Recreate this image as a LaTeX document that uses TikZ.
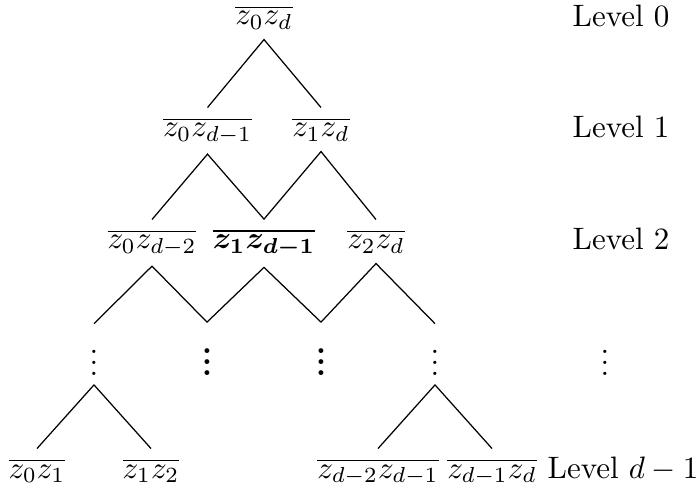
\documentclass[tikz,border=0pt]{standalone}
\usepackage{bm}
\newcommand\myvdots{\vbox{\baselineskip3.4pt\lineskiplimit0pt\kern5.5pt\hbox{.}\hbox{.}\hbox{.}}}
\begin{document}
\begin{tikzpicture}[x=0.3226pt,y=-0.3226pt,
  pair/.style={anchor=base,inner sep=3pt},
  lvl/.style={anchor=base west,inner sep=0pt},
  vd/.style={anchor=base,inner sep=3pt},
  conn/.style={draw=black,line width=0.4pt}]
\useasboundingbox (0,0) rectangle (697,489);
% level 0
\node[pair] (a) at (264,25) {$\overline{z_0z_d}$};
\node[lvl] (l0) at (572,27) {Level $0$};
% level 1
\node[pair] (b1) at (207.5,137) {$\overline{z_0z_{d-1}}$};
\node[pair] (b2) at (321,137) {$\overline{z_1z_d}$};
\node[lvl] (l1) at (572,138) {Level $1$};
% level 2
\node[pair] (c1) at (152,249) {$\overline{z_0z_{d-2}}$};
\node[pair] (c2) at (264,249) {$\bm{\overline{z_1z_{d-1}}}$};
\node[pair] (c3) at (376,249) {$\overline{z_2z_d}$};
\node[lvl] (l2) at (572,250) {Level $2$};
% dots
\node[vd] (d1) at (94,375) {\myvdots};
\node[vd,font=\bfseries] (d2) at (207,375) {\myvdots};
\node[vd,font=\bfseries] (d3) at (321,375) {\myvdots};
\node[vd] (d4) at (435,375) {\myvdots};
\node[vd] (d5) at (605,375) {\myvdots};
% bottom level
\node[pair] (e1) at (37,478) {$\overline{z_0z_1}$};
\node[pair] (e2) at (151,478) {$\overline{z_1z_2}$};
\node[pair] (e3) at (378,478) {$\overline{z_{d-2}z_{d-1}}$};
\node[pair] (e4) at (492,478) {$\overline{z_{d-1}z_d}$};
\node[lvl] (ld) at (547,478) {Level $d-1$};
% connectors
\draw[conn] (b1.north) -- (a.south) -- (b2.north);
\draw[conn] (c1.north) -- (b1.south) -- (c2.north) -- (b2.south) -- (c3.north);
\draw[conn] (d1.north) -- (c1.south) -- (d2.north) -- (c2.south) -- (d3.north) -- (c3.south) -- (d4.north);
\draw[conn] (e1.north) -- (d1.south) -- (e2.north);
\draw[conn] (e3.north) -- (d4.south) -- (e4.north);
\end{tikzpicture}
\end{document}
